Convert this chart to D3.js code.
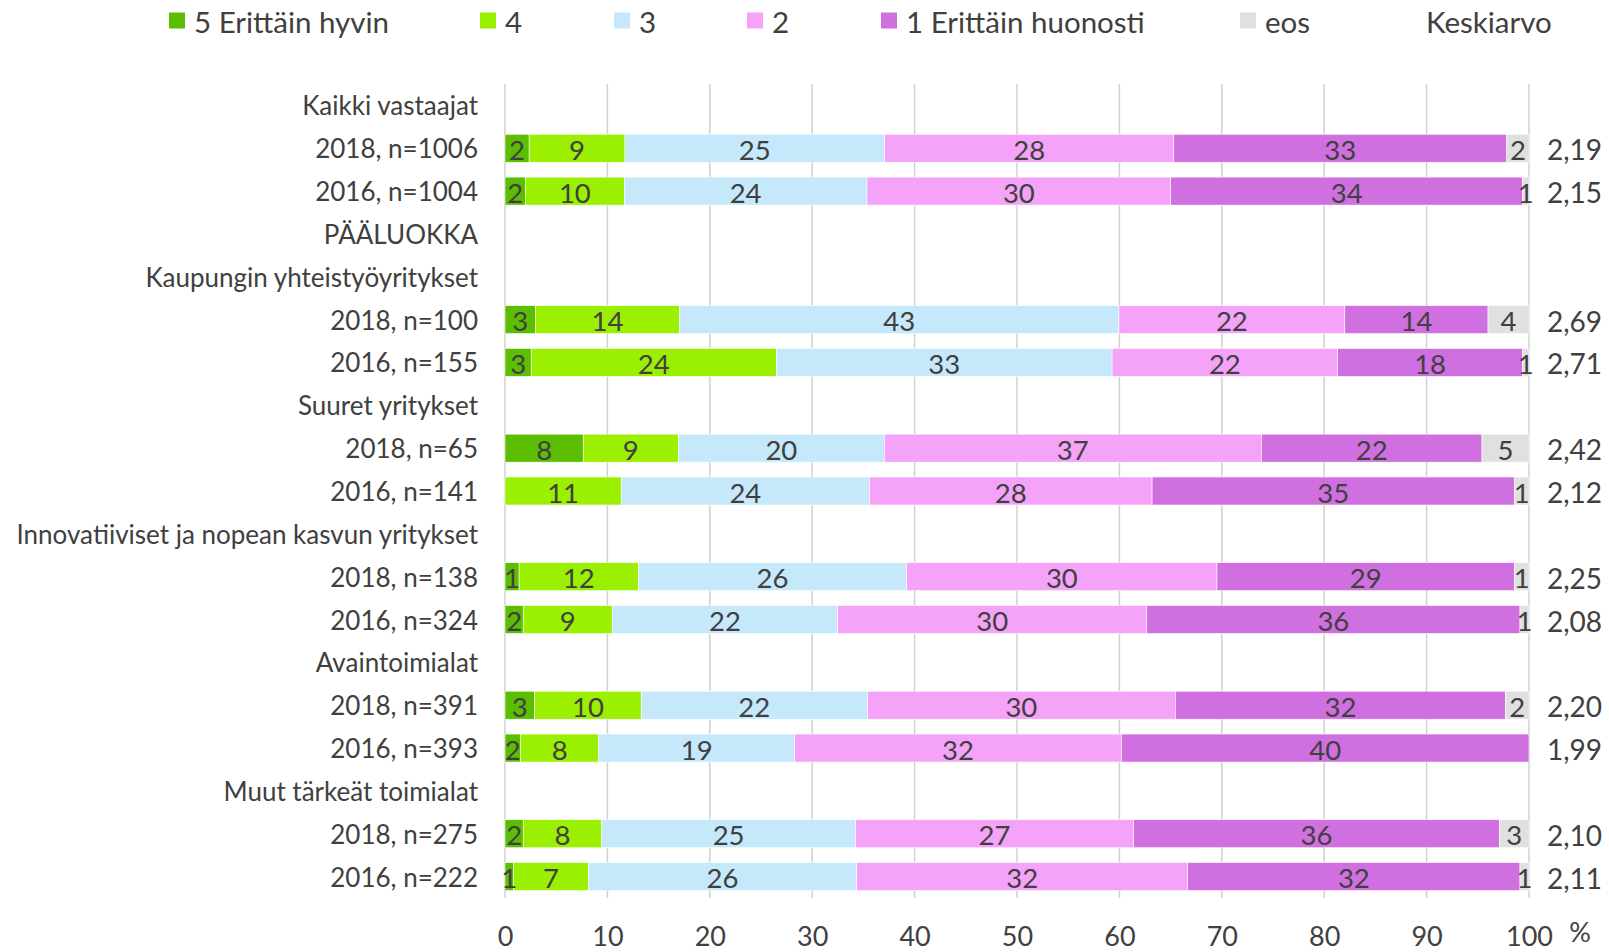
<!DOCTYPE html>
<html><head><meta charset="utf-8">
<script src="https://cdn.jsdelivr.net/npm/d3@7"></script>
<style>
html,body{margin:0;padding:0;background:#fff;}
svg{display:block;font-family:Lato, "Open Sans", sans-serif;}
</style></head>
<body><svg id="chart" width="1609" height="952"></svg>
<script>
// ---- data ----
const categories = [
  "Kaikki vastaajat", "2018, n=1006", "2016, n=1004", "PÄÄLUOKKA",
  "Kaupungin yhteistyöyritykset", "2018, n=100", "2016, n=155",
  "Suuret yritykset", "2018, n=65", "2016, n=141",
  "Innovatiiviset ja nopean kasvun yritykset", "2018, n=138", "2016, n=324",
  "Avaintoimialat", "2018, n=391", "2016, n=393",
  "Muut tärkeät toimialat", "2018, n=275", "2016, n=222"
];
const seriesNames = ["5 Erittäin hyvin", "4", "3", "2", "1 Erittäin huonosti", "eos"];
const s5  = [0, 2.36, 1.99, 0, 0, 2.96, 2.56, 0, 7.64, 0,     0, 1.38, 1.78, 0, 2.90, 1.52, 0, 1.78, 0.84];
const s4  = [0, 9.36, 9.66, 0, 0, 14.08, 23.94, 0, 9.30, 11.35, 0, 11.65, 8.69, 0, 10.40, 7.64, 0, 7.65, 7.31];
const s3  = [0, 25.35, 23.70, 0, 0, 42.91, 32.79, 0, 20.10, 24.24, 0, 26.20, 22.02, 0, 22.09, 19.12, 0, 24.81, 26.19];
const s2  = [0, 28.24, 29.66, 0, 0, 22.06, 22.02, 0, 36.82, 27.60, 0, 30.30, 30.18, 0, 30.07, 31.93, 0, 27.14, 32.33];
const s1  = [0, 32.52, 34.37, 0, 0, 13.99, 18.07, 0, 21.55, 35.40, 0, 29.07, 36.45, 0, 32.26, 39.79, 0, 35.72, 32.45];
const eos = [0, 2.17, 0.62, 0, 0, 4.00, 0.62, 0, 4.59, 1.41,  0, 1.40, 0.88, 0, 2.28, 0.00, 0, 2.90, 0.88];
const averages = [null, 2.19, 2.15, null, null, 2.69, 2.71, null, 2.42, 2.12, null, 2.25, 2.08, null, 2.20, 1.99, null, 2.10, 2.11];
const xTicks = [0, 10, 20, 30, 40, 50, 60, 70, 80, 90, 100];
const colors = ["#5cbe00", "#9af000", "#c5e8fb", "#f4a3f8", "#cf6fe0", "#e0e0e0"];

const seriesValues = [s5, s4, s3, s2, s1, eos];
const table = categories.map((c, i) => {
  const o = {idx: i, cat: c};
  seriesNames.forEach((k, j) => o[k] = seriesValues[j][i]);
  return o;
});

// ---- layout ----
const svg = d3.select("#chart");
const textColor = "#404040";
const x = d3.scaleLinear().domain([0, 100]).range([505, 1529]);
const y = d3.scaleBand().domain(d3.range(categories.length)).range([84, 898])
  .paddingInner(0.346).paddingOuter(0.173);
const color = d3.scaleOrdinal().domain(seriesNames).range(colors);

// gridlines
svg.append("g").selectAll("line").data(xTicks).join("line")
  .attr("x1", d => x(d)).attr("x2", d => x(d))
  .attr("y1", 84).attr("y2", 898)
  .attr("stroke", "#d0d0d0").attr("stroke-width", 1.5);

// stacked bars
const stack = d3.stack().keys(seriesNames);
const layers = stack(table);
const gBars = svg.append("g");
layers.forEach(layer => {
  gBars.append("g").selectAll("rect").data(layer.filter(d => d[1] - d[0] > 0)).join("rect")
    .attr("x", d => x(d[0]))
    .attr("width", d => x(d[1]) - x(d[0]))
    .attr("y", d => y(d.data.idx))
    .attr("height", y.bandwidth())
    .attr("fill", color(layer.key))
    .attr("stroke", "#ffffff").attr("stroke-width", 0.6);
});
// segment labels
layers.forEach(layer => {
  gBars.append("g").selectAll("text").data(layer.filter(d => d[1] - d[0] > 0)).join("text")
    .attr("x", d => x((d[0] + d[1]) / 2))
    .attr("y", d => y(d.data.idx) + y.bandwidth() / 2 + 1)
    .attr("text-anchor", "middle")
    .attr("dominant-baseline", "central")
    .attr("font-size", 27.5)
    .attr("fill", textColor)
    .text(d => Math.round(d[1] - d[0]));
});

// category labels
svg.append("g").selectAll("text").data(categories).join("text")
  .attr("x", 478)
  .attr("y", (d, i) => y(i) + y.bandwidth() / 2)
  .attr("text-anchor", "end")
  .attr("dominant-baseline", "central")
  .attr("font-size", 26)
  .attr("fill", textColor)
  .text(d => d);

// averages
svg.append("g").selectAll("text").data(averages.map((v, i) => ({v, i})).filter(d => d.v !== null)).join("text")
  .attr("x", 1547)
  .attr("y", d => y(d.i) + y.bandwidth() / 2 + 1)
  .attr("dominant-baseline", "central")
  .attr("font-size", 28)
  .attr("fill", textColor)
  .text(d => d.v.toFixed(2).replace(".", ","));

// x axis
const xAxis = svg.append("g").attr("transform", "translate(0,898)")
  .call(d3.axisBottom(x).tickValues(xTicks).tickSize(0).tickPadding(29).tickFormat(d3.format("d")));
xAxis.select(".domain").remove();
xAxis.selectAll("text").attr("font-size", 27).attr("fill", textColor).attr("font-family", "Lato, sans-serif");
svg.append("text").attr("x", 1580).attr("y", 931).attr("text-anchor", "middle")
  .attr("dominant-baseline", "central")
  .attr("font-size", 27).attr("fill", textColor).text("%");

// legend
const legendX = [169, 480, 614, 747, 881, 1240];
const legend = svg.append("g");
seriesNames.forEach((name, i) => {
  legend.append("rect").attr("x", legendX[i]).attr("y", 12.5).attr("width", 16).attr("height", 16)
    .attr("fill", colors[i]);
  legend.append("text").attr("x", legendX[i] + 25).attr("y", 21)
    .attr("dominant-baseline", "central").attr("font-size", 29.5).attr("fill", textColor).text(name);
});
legend.append("text").attr("x", 1426).attr("y", 21)
  .attr("dominant-baseline", "central").attr("font-size", 29.5).attr("fill", textColor).text("Keskiarvo");
</script>
</body></html>
